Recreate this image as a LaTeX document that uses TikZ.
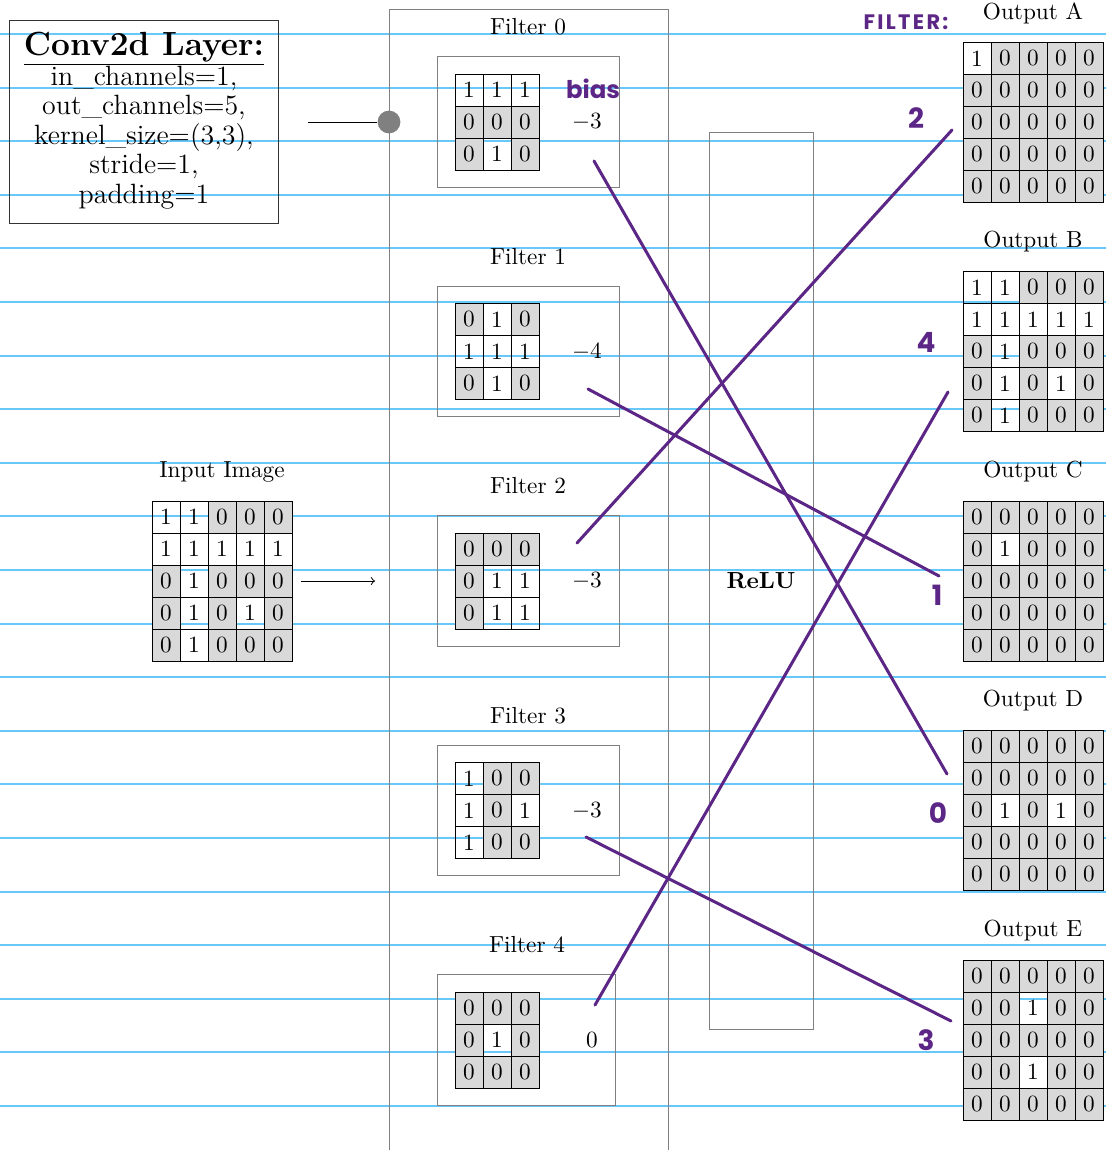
\documentclass[tikz,border=0pt]{standalone}
\usepackage{fontspec}
\usepackage{tikz}
\usetikzlibrary{positioning,fit,calc}
\newfontfamily\handfont{Poppins}
\definecolor{rulecolor}{RGB}{105,200,250}
\definecolor{pencolor}{RGB}{92,38,134}
\definecolor{cellgray}{RGB}{217,217,217}

% grid of value cells: name, x/y of the first cell, rows
\newcommand{\cellgrid}[4]{%
  \foreach \row [count=\r] in {#4} {
    \foreach \v [count=\c] in \row {
      \ifnum\v=0 \tikzset{cellfill/.style={fill=cellgray}}\else\tikzset{cellfill/.style={}}\fi
      \node[cell, cellfill] (#1-\r-\c) at ({#2+(\c-1)*28},{#3+(\r-1)*32}) {\v};
    }
  }
}

\begin{document}
\begin{tikzpicture}[
  x=0.43pt, y=-0.43pt,
  cell/.style={draw, minimum width=12.04pt, minimum height=13.76pt, inner sep=0pt},
  filterbox/.style={draw=gray, inner sep=7.3pt},
  bias/.style={inner sep=0pt},
  column/.style={draw=gray},
  layerbox/.style={draw=black!80, font=\large, inner xsep=6.2pt, inner ysep=4.8pt},
  tap/.style={circle, fill=gray, minimum size=9.8pt, inner sep=0pt},
  ruled/.style={rulecolor, line width=0.85pt},
  pen/.style={pencolor, line width=1.3pt, line cap=round},
  hand/.style={text=pencolor, font=\handfont\bfseries\fontsize{12}{12}\selectfont},
]
\useasboundingbox (0,0) rectangle (1106,1150);

% notebook lines
\foreach \k in {0,...,20}
  \draw[ruled] (0,{34+53.6*\k}) -- (1106,{34+53.6*\k});

% layer description
\renewcommand{\arraystretch}{0.9}
\node[layerbox] (conv) at (144,122) {\begin{tabular}{@{}c@{}}
  {\Large\bfseries Conv2d Layer:}\\\hline
  in\_channels=1,\\ out\_channels=5,\\ kernel\_size=(3,3),\\ stride=1,\\ padding=1
\end{tabular}};
\coordinate (convtail) at (308,122);

% columns
\node[column, minimum width=120pt, minimum height=494.9pt] (filters) at (528.5,584.5) {};
\node[column, minimum width=44.7pt, minimum height=385.7pt, font=\bfseries] (relu) at (761,580.5) {ReLU};
\node[tap] (tap) at (389,122) {};
\draw (convtail) -- (tap);

% Input image
\node (intitle) at (222,472) {Input Image};
\cellgrid{in}{166}{517}{{1,1,0,0,0},{1,1,1,1,1},{0,1,0,0,0},{0,1,0,1,0},{0,1,0,0,0}}
\coordinate (arrowtail) at (301,581);
\coordinate (arrowtip) at (375,581);
\draw[->] (arrowtail) -- (arrowtip);

% Filters
\node (t0) at (528,27) {Filter 0};
\cellgrid{f0}{469}{90}{{1,1,1},{0,0,0},{0,1,0}}
\node[bias] (b0) at (587,122) {$-3$};
\node[filterbox, fit=(f0-1-1)(f0-3-3)(b0)] (fb0) {};

\node (t1) at (528,257) {Filter 1};
\cellgrid{f1}{469}{319.5}{{0,1,0},{1,1,1},{0,1,0}}
\node[bias] (b1) at (587,351.5) {$-4$};
\node[filterbox, fit=(f1-1-1)(f1-3-3)(b1)] (fb1) {};

\node (t2) at (528,486) {Filter 2};
\cellgrid{f2}{469}{549}{{0,0,0},{0,1,1},{0,1,1}}
\node[bias] (b2) at (587,581) {$-3$};
\node[filterbox, fit=(f2-1-1)(f2-3-3)(b2)] (fb2) {};

\node (t3) at (528,716) {Filter 3};
\cellgrid{f3}{469}{778.5}{{1,0,0},{1,0,1},{1,0,0}}
\node[bias] (b3) at (587,810.5) {$-3$};
\node[filterbox, fit=(f3-1-1)(f3-3-3)(b3)] (fb3) {};

\node (t4) at (527,945) {Filter 4};
\cellgrid{f4}{469}{1008}{{0,0,0},{0,1,0},{0,0,0}}
\node[bias] (b4) at (592,1040) {$0$};
\node[filterbox, fit=(f4-1-1)(f4-3-3)(b4)] (fb4) {};

% Outputs
\node (oa) at (1033,13) {Output A};
\cellgrid{A}{977}{58.5}{{1,0,0,0,0},{0,0,0,0,0},{0,0,0,0,0},{0,0,0,0,0},{0,0,0,0,0}}
\node (ob) at (1033,242) {Output B};
\cellgrid{B}{977}{287.5}{{1,1,0,0,0},{1,1,1,1,1},{0,1,0,0,0},{0,1,0,1,0},{0,1,0,0,0}}
\node (oc) at (1033,472) {Output C};
\cellgrid{C}{977}{517}{{0,0,0,0,0},{0,1,0,0,0},{0,0,0,0,0},{0,0,0,0,0},{0,0,0,0,0}}
\node (od) at (1033,701) {Output D};
\cellgrid{D}{977}{746.5}{{0,0,0,0,0},{0,0,0,0,0},{0,1,0,1,0},{0,0,0,0,0},{0,0,0,0,0}}
\node (oe) at (1033,931) {Output E};
\cellgrid{E}{977}{976}{{0,0,0,0,0},{0,0,1,0,0},{0,0,0,0,0},{0,0,1,0,0},{0,0,0,0,0}}

% handwritten notes
\node[hand, font=\handfont\bfseries\fontsize{10.5}{10.5}\selectfont, inner sep=1pt] (hbias) at (593,89) {bias};
\node[hand, font=\handfont\bfseries\fontsize{9}{9}\selectfont] (hfilter) at (906,22) {F\kern1pt I\kern1pt L\kern1pt T\kern1pt E\kern1pt R\kern1pt :};
\node[hand] (n0) at (938,813) {0};
\node[hand] (n1) at (937,595) {1};
\node[hand] (n2) at (916,118) {2};
\node[hand] (n3) at (926,1040) {3};
\node[hand] (n4) at (926,342) {4};

\coordinate (s0) at (594,161);  \coordinate (e0) at (947,774);
\coordinate (s1) at (588,389);  \coordinate (e1) at (939,576);
\coordinate (s2) at (577,543);  \coordinate (e2) at (952,130);
\coordinate (s3) at (586,837);  \coordinate (e3) at (951,1021);
\coordinate (s4) at (595,1005); \coordinate (e4) at (948,392);
\draw[pen] (s0) -- (e0);
\draw[pen] (s1) -- (e1);
\draw[pen] (s2) -- (e2);
\draw[pen] (s3) -- (e3);
\draw[pen] (s4) -- (e4);

\end{tikzpicture}
\end{document}
